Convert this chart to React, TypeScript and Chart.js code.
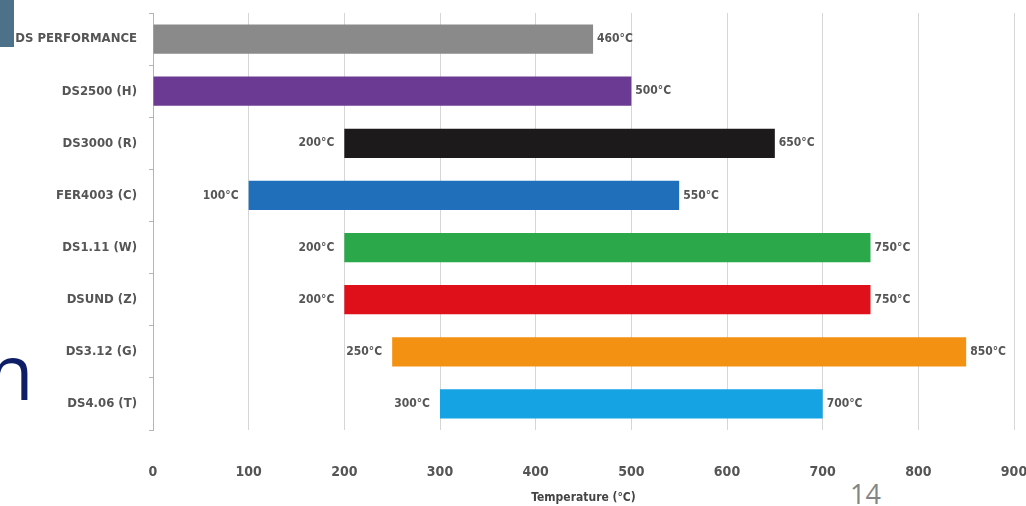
import React, { useEffect, useRef } from "react";
import { Chart, registerables } from "chart.js";

Chart.register(...registerables);

const categories = [
  "DS PERFORMANCE",
  "DS2500 (H)",
  "DS3000 (R)",
  "FER4003 (C)",
  "DS1.11 (W)",
  "DSUND (Z)",
  "DS3.12 (G)",
  "DS4.06 (T)",
];
const startTemps = [0, 0, 200, 100, 200, 200, 250, 300];
const endTemps = [460, 500, 650, 550, 750, 750, 850, 700];
const barColors = [
  "#8a8a8a",
  "#6b3a92",
  "#1c1a1b",
  "#1f6fbb",
  "#2ba84a",
  "#e0101b",
  "#f39212",
  "#16a3e3",
];
const xMin = 0;
const xMax = 900;
const xStep = 100;
const axisTitle = "Temperature (°C)";
const unit = "°C";
const pageNumber = "14";
const titleFragment = "n";

const FONT = '"DejaVu Sans Condensed", "DejaVu Sans", sans-serif';

const barLabelsPlugin = {
  id: "barLabels",
  afterDatasetsDraw(chart: any) {
    const ctx = chart.ctx;
    const meta = chart.getDatasetMeta(0);
    const xs = chart.scales.x;
    ctx.save();
    ctx.font = `bold 12px ${FONT}`;
    ctx.fillStyle = "#555555";
    ctx.textBaseline = "middle";
    meta.data.forEach((el: any, i: number) => {
      const x0 = xs.getPixelForValue(startTemps[i]);
      const x1 = xs.getPixelForValue(endTemps[i]);
      const y = el.y;
      if (startTemps[i] > 0) {
        ctx.textAlign = "right";
        ctx.fillText(`${startTemps[i]}${unit}`, x0 - 10, y);
      }
      ctx.textAlign = "left";
      ctx.fillText(`${endTemps[i]}${unit}`, x1 + 4, y);
    });
    ctx.restore();
  },
};

export default function App() {
  const canvasRef = useRef<HTMLCanvasElement | null>(null);

  useEffect(() => {
    if (!canvasRef.current) return;
    Chart.defaults.font.family = FONT;
    const chart = new Chart(canvasRef.current, {
      type: "bar",
      data: {
        labels: categories,
        datasets: [
          {
            data: startTemps.map((s, i) => [s, endTemps[i]]),
            backgroundColor: barColors,
            borderWidth: 0,
            barPercentage: 0.56,
            categoryPercentage: 1,
          },
        ],
      },
      options: {
        indexAxis: "y",
        responsive: false,
        devicePixelRatio: 1,
        animation: false,
        layout: { padding: { top: 13, right: 12, bottom: 0, left: 0 } },
        plugins: {
          legend: { display: false },
          tooltip: { enabled: false },
          title: { display: false },
        },
        scales: {
          x: {
            type: "linear",
            position: "bottom",
            min: xMin,
            max: xMax,
            ticks: {
              stepSize: xStep,
              color: "#555555",
              font: { size: 14, weight: "bold", family: FONT },
              padding: 34,
            },
            grid: { color: "#d6d6d6", drawTicks: false, lineWidth: 1 },
            border: { display: false },
            title: {
              display: true,
              text: axisTitle,
              color: "#444444",
              font: { size: 12, weight: "bold", family: FONT },
              padding: { top: 0, bottom: 1 },
            },
            afterFit: (s: any) => {
              s.height = 76;
              s.paddingLeft = 0;
              s.paddingRight = 0;
            },
          },
          y: {
            type: "category",
            offset: true,
            ticks: {
              color: "#555555",
              font: { size: 13, weight: "bold", family: FONT },
              padding: 12,
            },
            grid: {
              drawOnChartArea: false,
              drawTicks: true,
              tickLength: 4,
              color: "#b5b5b5",
              offset: true,
            },
            border: { display: true, color: "#b5b5b5" },
            afterFit: (s: any) => {
              s.width = 153;
              s.paddingTop = 0;
              s.paddingBottom = 0;
            },
          },
        },
      },
      plugins: [barLabelsPlugin],
    } as any);
    return () => chart.destroy();
  }, []);

  return (
    <div
      style={{
        position: "fixed",
        left: 0,
        top: 0,
        width: 1026,
        height: 506,
        background: "#ffffff",
        overflow: "hidden",
      }}
    >
      <div
        style={{
          position: "absolute",
          left: 0,
          top: 0,
          width: 14,
          height: 47,
          background: "#4d7189",
        }}
      />
      <div
        style={{
          position: "absolute",
          left: -13,
          top: 326,
          fontFamily: '"Open Sans", "Liberation Sans", sans-serif',
          fontSize: 76,
          lineHeight: "90px",
          color: "#0d1e66",
        }}
      >
        {titleFragment}
      </div>
      <div
        style={{
          position: "absolute",
          left: 850,
          top: 478,
          fontFamily: '"Open Sans", "Liberation Sans", sans-serif',
          fontSize: 27,
          lineHeight: "32px",
          color: "#858585",
        }}
      >
        {pageNumber}
      </div>
      <canvas
        ref={canvasRef}
        width={1026}
        height={506}
        style={{ position: "absolute", left: 0, top: 0, width: 1026, height: 506 }}
      />
    </div>
  );
}
